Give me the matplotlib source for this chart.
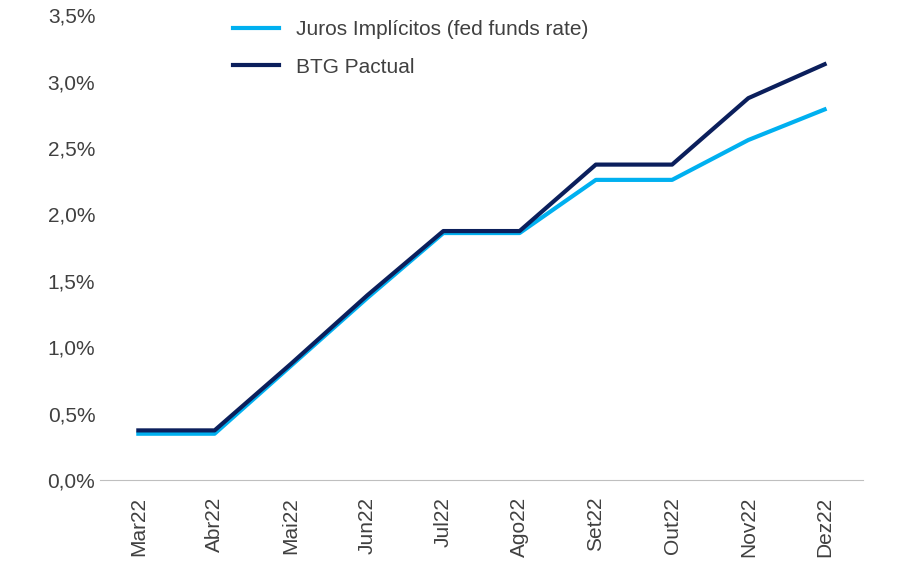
import matplotlib
matplotlib.use("Agg")
import matplotlib.pyplot as plt
from matplotlib.ticker import FuncFormatter

months = ["Mar22", "Abr22", "Mai22", "Jun22", "Jul22", "Ago22", "Set22", "Out22", "Nov22", "Dez22"]
juros_implicitos = [0.35, 0.35, 0.86, 1.37, 1.86, 1.86, 2.26, 2.26, 2.56, 2.79]
btg_pactual = [0.375, 0.375, 0.875, 1.39, 1.875, 1.875, 2.375, 2.375, 2.875, 3.13]

plt.rcParams["font.family"] = "Liberation Sans"

fig = plt.figure(figsize=(9.11, 5.8), dpi=100)
ax = fig.add_axes([0.11, 0.172, 0.837, 0.802])
x = range(len(months))
ax.plot(x, juros_implicitos, color="#00B0F0", lw=3, label="Juros Implícitos (fed funds rate)")
ax.plot(x, btg_pactual, color="#0B1F5C", lw=3, label="BTG Pactual")

ax.set_xlim(-0.5, len(months) - 0.5)
ax.set_ylim(0, 3.5)
ax.set_yticks([i * 0.5 for i in range(8)])
ax.yaxis.set_major_formatter(FuncFormatter(lambda v, _: f"{v:.1f}%".replace(".", ",")))
ax.set_xticks(list(x))
ax.set_xticklabels(months, rotation=90)
ax.tick_params(axis="both", labelsize=15, colors="#404040", length=0)
ax.tick_params(axis="x", pad=12)
for s in ["top", "right", "left"]:
    ax.spines[s].set_visible(False)
ax.spines["bottom"].set_color("#BFBFBF")
ax.legend(loc="upper left", bbox_to_anchor=(0.15, 1.03), frameon=False, fontsize=15,
          handlelength=2.2, labelspacing=0.9, labelcolor="#404040")
fig.savefig("out.png")
